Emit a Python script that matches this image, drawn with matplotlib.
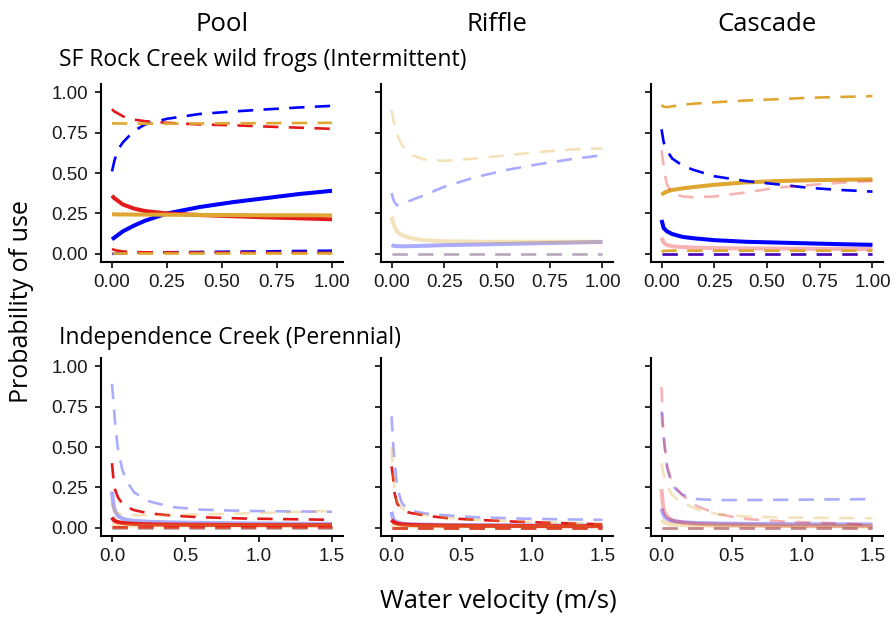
import numpy as np
import matplotlib.pyplot as plt

plt.rcParams['lines.scale_dashes'] = False

# velocity grids (m/s)
vel_int = [0, 0.01, 0.025, 0.05, 0.1, 0.15, 0.25, 0.4, 0.55, 0.7, 0.85, 1.0]
vel_per = [0, 0.01, 0.02, 0.04, 0.07, 0.1, 0.15, 0.25, 0.4, 0.6, 0.9, 1.2, 1.5]

# SF Rock Creek - Pool
rp_blue_fit = [0.09, 0.10, 0.115, 0.14, 0.175, 0.205, 0.25, 0.29, 0.32, 0.345, 0.37, 0.39]
rp_blue_hi = [0.51, 0.57, 0.64, 0.69, 0.76, 0.80, 0.835, 0.865, 0.88, 0.893, 0.905, 0.915]
rp_blue_lo = [0.0, 0.002, 0.003, 0.005, 0.007, 0.008, 0.01, 0.012, 0.014, 0.016, 0.018, 0.02]
rp_red_fit = [0.36, 0.345, 0.33, 0.305, 0.28, 0.265, 0.25, 0.24, 0.233, 0.226, 0.22, 0.214]
rp_red_hi = [0.895, 0.88, 0.87, 0.85, 0.83, 0.82, 0.81, 0.80, 0.795, 0.787, 0.78, 0.773]
rp_red_lo = [0.03, 0.025, 0.02, 0.015, 0.011, 0.01, 0.009, 0.008, 0.008, 0.007, 0.007, 0.007]
rp_gold_fit = [0.245, 0.245, 0.244, 0.244, 0.243, 0.243, 0.242, 0.241, 0.24, 0.239, 0.239, 0.238]
rp_gold_hi = [0.807, 0.807, 0.806, 0.806, 0.805, 0.805, 0.805, 0.806, 0.807, 0.808, 0.809, 0.81]
rp_gold_lo = [0.008, 0.008, 0.008, 0.008, 0.008, 0.008, 0.008, 0.008, 0.008, 0.008, 0.008, 0.008]

# SF Rock Creek - Riffle
rr_blue_fit = [0.055, 0.05, 0.048, 0.047, 0.048, 0.05, 0.054, 0.058, 0.062, 0.066, 0.07, 0.074]
rr_blue_hi = [0.375, 0.33, 0.30, 0.31, 0.335, 0.36, 0.415, 0.475, 0.52, 0.555, 0.585, 0.61]
rr_blue_lo = [0.001, 0.001, 0.001, 0.001, 0.001, 0.001, 0.001, 0.001, 0.001, 0.001, 0.001, 0.001]
rr_gold_fit = [0.23, 0.18, 0.14, 0.115, 0.095, 0.085, 0.078, 0.076, 0.075, 0.075, 0.075, 0.075]
rr_gold_hi = [0.89, 0.82, 0.74, 0.67, 0.61, 0.585, 0.575, 0.59, 0.61, 0.63, 0.645, 0.652]
rr_gold_lo = [0.001, 0.001, 0.001, 0.001, 0.001, 0.001, 0.001, 0.001, 0.001, 0.001, 0.001, 0.001]

# SF Rock Creek - Cascade
rc_blue_fit = [0.21, 0.16, 0.14, 0.123, 0.105, 0.097, 0.085, 0.075, 0.07, 0.065, 0.06, 0.056]
rc_blue_hi = [0.77, 0.69, 0.64, 0.59, 0.545, 0.52, 0.48, 0.45, 0.43, 0.408, 0.395, 0.385]
rc_blue_lo = [0.001, 0.001, 0.001, 0.001, 0.001, 0.001, 0.001, 0.001, 0.001, 0.001, 0.001, 0.001]
rc_red_fit = [0.10, 0.07, 0.055, 0.047, 0.042, 0.039, 0.036, 0.034, 0.033, 0.032, 0.031, 0.03]
rc_red_hi = [0.64, 0.54, 0.43, 0.375, 0.355, 0.35, 0.355, 0.38, 0.41, 0.425, 0.44, 0.45]
rc_red_lo = [0.002, 0.002, 0.002, 0.002, 0.002, 0.002, 0.002, 0.002, 0.002, 0.002, 0.002, 0.002]
rc_gold_fit = [0.365, 0.375, 0.385, 0.395, 0.405, 0.413, 0.427, 0.442, 0.45, 0.455, 0.458, 0.461]
rc_gold_hi = [0.92, 0.91, 0.907, 0.912, 0.922, 0.928, 0.937, 0.948, 0.956, 0.965, 0.97, 0.975]
rc_gold_lo = [0.015, 0.018, 0.02, 0.02, 0.02, 0.02, 0.02, 0.02, 0.02, 0.02, 0.02, 0.02]

# Independence Creek - Pool
ip_blue_fit = [0.225, 0.14, 0.105, 0.075, 0.058, 0.05, 0.044, 0.038, 0.034, 0.031, 0.028, 0.026, 0.025]
ip_blue_hi = [0.89, 0.78, 0.66, 0.49, 0.36, 0.29, 0.22, 0.165, 0.13, 0.113, 0.105, 0.102, 0.10]
ip_blue_lo = [0.002, 0.002, 0.002, 0.002, 0.002, 0.002, 0.002, 0.002, 0.002, 0.002, 0.002, 0.002, 0.002]
ip_red_fit = [0.065, 0.05, 0.043, 0.036, 0.031, 0.028, 0.025, 0.022, 0.02, 0.019, 0.018, 0.017, 0.017]
ip_red_hi = [0.40, 0.30, 0.24, 0.19, 0.15, 0.13, 0.11, 0.09, 0.077, 0.066, 0.058, 0.054, 0.05]
ip_red_lo = [0.003, 0.003, 0.003, 0.003, 0.003, 0.003, 0.003, 0.003, 0.003, 0.003, 0.003, 0.003, 0.003]
ip_gold_fit = [0.02, 0.018, 0.016, 0.015, 0.015, 0.015, 0.015, 0.015, 0.015, 0.015, 0.015, 0.015, 0.015]
ip_gold_hi = [0.15, 0.12, 0.10, 0.09, 0.085, 0.082, 0.08, 0.079, 0.08, 0.083, 0.09, 0.097, 0.105]
ip_gold_lo = [0.001, 0.001, 0.001, 0.001, 0.001, 0.001, 0.001, 0.001, 0.001, 0.001, 0.001, 0.001, 0.001]

# Independence Creek - Riffle
ir_blue_fit = [0.10, 0.06, 0.045, 0.035, 0.028, 0.025, 0.022, 0.02, 0.018, 0.017, 0.016, 0.015, 0.015]
ir_blue_hi = [0.69, 0.54, 0.42, 0.25, 0.16, 0.125, 0.103, 0.088, 0.077, 0.066, 0.058, 0.053, 0.05]
ir_blue_lo = [0.002, 0.002, 0.002, 0.002, 0.002, 0.002, 0.002, 0.002, 0.002, 0.002, 0.002, 0.002, 0.002]
ir_red_fit = [0.05, 0.04, 0.033, 0.027, 0.022, 0.02, 0.018, 0.016, 0.014, 0.013, 0.012, 0.011, 0.011]
ir_red_hi = [0.38, 0.32, 0.22, 0.15, 0.12, 0.10, 0.09, 0.075, 0.06, 0.05, 0.038, 0.03, 0.022]
ir_red_lo = [0.002, 0.002, 0.002, 0.002, 0.002, 0.002, 0.002, 0.002, 0.002, 0.002, 0.002, 0.002, 0.002]
ir_gold_fit = [0.02, 0.015, 0.012, 0.01, 0.01, 0.01, 0.01, 0.01, 0.01, 0.01, 0.01, 0.01, 0.01]
ir_gold_hi = [0.50, 0.36, 0.25, 0.16, 0.125, 0.105, 0.092, 0.077, 0.062, 0.05, 0.04, 0.032, 0.025]
ir_gold_lo = [0.001, 0.001, 0.001, 0.001, 0.001, 0.001, 0.001, 0.001, 0.001, 0.001, 0.001, 0.001, 0.001]

# Independence Creek - Cascade
ic_blue_fit = [0.12, 0.09, 0.072, 0.055, 0.045, 0.04, 0.035, 0.03, 0.027, 0.025, 0.023, 0.022, 0.021]
ic_blue_hi = [0.72, 0.60, 0.52, 0.37, 0.28, 0.24, 0.205, 0.178, 0.172, 0.172, 0.174, 0.176, 0.178]
ic_blue_lo = [0.002, 0.002, 0.002, 0.002, 0.002, 0.002, 0.002, 0.002, 0.002, 0.002, 0.002, 0.002, 0.002]
ic_red_fit = [0.24, 0.14, 0.10, 0.07, 0.05, 0.04, 0.033, 0.025, 0.02, 0.017, 0.014, 0.012, 0.011]
ic_red_hi = [0.87, 0.64, 0.52, 0.38, 0.29, 0.25, 0.20, 0.135, 0.085, 0.055, 0.038, 0.03, 0.02]
ic_red_lo = [0.002, 0.002, 0.002, 0.002, 0.002, 0.002, 0.002, 0.002, 0.002, 0.002, 0.002, 0.002, 0.002]
ic_gold_fit = [0.05, 0.04, 0.033, 0.027, 0.022, 0.02, 0.017, 0.015, 0.013, 0.012, 0.011, 0.01, 0.01]
ic_gold_hi = [0.40, 0.35, 0.31, 0.26, 0.21, 0.185, 0.155, 0.115, 0.085, 0.07, 0.064, 0.062, 0.06]
ic_gold_lo = [0.001, 0.001, 0.001, 0.001, 0.001, 0.001, 0.001, 0.001, 0.001, 0.001, 0.001, 0.001, 0.001]

habitats = ['Pool', 'Riffle', 'Cascade']
sites = ['SF Rock Creek wild frogs (Intermittent)', 'Independence Creek (Perennial)']
xticks_int = [0, 0.25, 0.5, 0.75, 1.0]
xlabels_int = ['0.00', '0.25', '0.50', '0.75', '1.00']
xticks_per = [0, 0.5, 1.0, 1.5]
xlabels_per = ['0.0', '0.5', '1.0', '1.5']
yticks = [0, 0.25, 0.5, 0.75, 1.0]
ylabels = ['0.00', '0.25', '0.50', '0.75', '1.00']

BLUE = '#0000FF'
RED = '#E31A1C'
GOLD = '#DFA732'
FADE = 0.33

W, H = 896, 619
fig = plt.figure(figsize=(W / 100, H / 100), dpi=100)

def px_axes(left, top, width, height):
    return fig.add_axes([left / W, 1 - (top + height) / H, width / W, height / H])

def draw(ax, x, curves, xt, xl, xmax, show_y):
    # fitted lines first, bounds on top
    for col, a, fit, lo, hi in curves:
        ax.plot(x, fit, color=col, alpha=a, lw=2.9, solid_capstyle='butt')
    for col, a, fit, lo, hi in curves:
        ax.plot(x, hi, color=col, alpha=a, lw=1.9, dashes=(11, 7.5))
        ax.plot(x, lo, color=col, alpha=a, lw=1.9, dashes=(11, 7.5))
    ax.set_xlim(-0.05 * xmax, 1.05 * xmax)
    ax.set_ylim(-0.05, 1.05)
    ax.set_xticks(xt)
    ax.set_xticklabels(xl)
    ax.set_yticks(yticks)
    ax.set_yticklabels(ylabels if show_y else [])
    for s in ['top', 'right']:
        ax.spines[s].set_visible(False)
    for s in ['left', 'bottom']:
        ax.spines[s].set_linewidth(1.5)
    ax.tick_params(length=4.5, width=1.3, labelsize=13.5, colors='#1a1a1a')
    ax.tick_params(axis='x', pad=4)
    ax.tick_params(axis='y', pad=5)
    for lab in ax.get_xticklabels() + ax.get_yticklabels():
        lab.set_family('Liberation Sans')

panels = [
    [(BLUE, 1, rp_blue_fit, rp_blue_lo, rp_blue_hi),
     (RED, 1, rp_red_fit, rp_red_lo, rp_red_hi),
     (GOLD, 1, rp_gold_fit, rp_gold_lo, rp_gold_hi)],
    [(BLUE, FADE, rr_blue_fit, rr_blue_lo, rr_blue_hi),
     (GOLD, FADE, rr_gold_fit, rr_gold_lo, rr_gold_hi)],
    [(BLUE, 1, rc_blue_fit, rc_blue_lo, rc_blue_hi),
     (RED, FADE, rc_red_fit, rc_red_lo, rc_red_hi),
     (GOLD, 1, rc_gold_fit, rc_gold_lo, rc_gold_hi)],
    [(BLUE, FADE, ip_blue_fit, ip_blue_lo, ip_blue_hi),
     (RED, 1, ip_red_fit, ip_red_lo, ip_red_hi),
     (GOLD, FADE, ip_gold_fit, ip_gold_lo, ip_gold_hi)],
    [(BLUE, FADE, ir_blue_fit, ir_blue_lo, ir_blue_hi),
     (RED, 1, ir_red_fit, ir_red_lo, ir_red_hi),
     (GOLD, FADE, ir_gold_fit, ir_gold_lo, ir_gold_hi)],
    [(BLUE, FADE, ic_blue_fit, ic_blue_lo, ic_blue_hi),
     (RED, FADE, ic_red_fit, ic_red_lo, ic_red_hi),
     (GOLD, FADE, ic_gold_fit, ic_gold_lo, ic_gold_hi)],
]

lefts = [101, 381, 651]
widths = [242, 232, 232]
tops = [84, 358]

for r in range(2):
    for c in range(3):
        ax = px_axes(lefts[c], tops[r], widths[c], 178)
        if r == 0:
            draw(ax, vel_int, panels[c], xticks_int, xlabels_int, 1.0, c == 0)
        else:
            draw(ax, vel_per, panels[3 + c], xticks_per, xlabels_per, 1.5, c == 0)

title_font = 'Open Sans'
for c in range(3):
    fig.text((lefts[c] + widths[c] / 2) / W, 1 - 31 / H, habitats[c], ha='center',
             va='baseline', fontsize=18.5, family=title_font)
fig.text(59 / W, 1 - 66 / H, sites[0], ha='left', va='baseline', fontsize=16.5, family=title_font)
fig.text(59 / W, 1 - 344 / H, sites[1], ha='left', va='baseline', fontsize=16.5, family=title_font)
fig.text(498 / W, 1 - 608 / H, 'Water velocity (m/s)', ha='center', va='baseline',
         fontsize=18.5, family=title_font)
fig.text(22 / W, 1 - 302 / H, 'Probability of use', ha='center', va='center',
         rotation=90, fontsize=18, family=title_font)

fig.savefig('out.png', dpi=100)
